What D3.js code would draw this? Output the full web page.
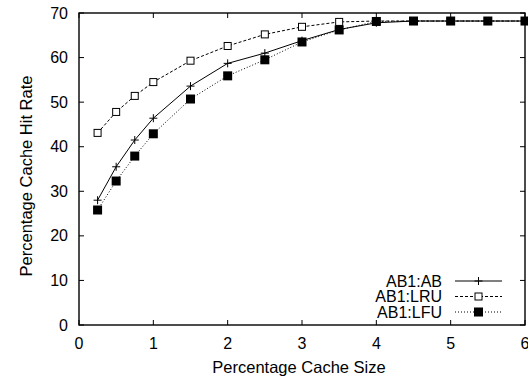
<!DOCTYPE html>
<html><head><meta charset="utf-8">
<script src="https://cdn.jsdelivr.net/npm/d3@7"></script>
<style>body{margin:0;background:#fff}svg{display:block}</style>
</head><body>
<svg id="c" width="528" height="381"></svg>
<script>
const xs = [0.25,0.5,0.75,1,1.5,2,2.5,3,3.5,4,4.5,5,5.5,6];
const abVals  = [28.0,35.5,41.5,46.4,53.6,58.7,61.0,63.8,66.3,67.8,68.2,68.2,68.2,68.2];
const lruVals = [43.1,47.8,51.4,54.5,59.3,62.6,65.2,66.9,68.0,68.2,68.2,68.2,68.2,68.2];
const lfuVals = [25.8,32.3,37.9,42.9,50.7,55.9,59.5,63.5,66.2,68.1,68.2,68.2,68.2,68.2];
const xTicks = [0,1,2,3,4,5,6];
const yTicks = [0,10,20,30,40,50,60,70];
const seriesNames = ["AB1:AB","AB1:LRU","AB1:LFU"];

const svg = d3.select("#c");
const L=79,R=525,T=13,B=325;
const x = d3.scaleLinear().domain([0,6]).range([L,R]);
const y = d3.scaleLinear().domain([0,70]).range([B,T]);
const font = "Liberation Sans, Arial, Helvetica, sans-serif";
const fs = 16;

// ticks
const tl=5;
const g = svg.append("g").attr("stroke","#000").attr("stroke-width",1);
xTicks.forEach(t=>{
  g.append("line").attr("x1",x(t)).attr("x2",x(t)).attr("y1",B).attr("y2",B-tl);
  g.append("line").attr("x1",x(t)).attr("x2",x(t)).attr("y1",T).attr("y2",T+tl);
});
yTicks.forEach(t=>{
  g.append("line").attr("x1",L).attr("x2",L+tl).attr("y1",y(t)).attr("y2",y(t));
  g.append("line").attr("x1",R).attr("x2",R-tl).attr("y1",y(t)).attr("y2",y(t));
});
svg.append("rect").attr("x",L).attr("y",T).attr("width",R-L).attr("height",B-T)
  .attr("fill","none").attr("stroke","#000").attr("stroke-width",1.4);

svg.selectAll(".xt").data(xTicks).enter().append("text")
  .attr("x",d=>x(d)).attr("y",B+24).attr("text-anchor","middle")
  .attr("font-family",font).attr("font-size",fs).text(d=>d);
svg.selectAll(".yt").data(yTicks).enter().append("text")
  .attr("x",L-11).attr("y",d=>y(d)+5.5).attr("text-anchor","end")
  .attr("font-family",font).attr("font-size",fs).text(d=>d);

svg.append("text").attr("x",299).attr("y",373).attr("text-anchor","middle")
  .attr("font-family",font).attr("font-size",16.5).text("Percentage Cache Size");
svg.append("text").attr("transform",`translate(32,176) rotate(-90)`)
  .attr("text-anchor","middle").attr("font-family",font).attr("font-size",16.5)
  .text("Percentage Cache Hit Rate");

const line = d3.line().x(d=>x(d[0])).y(d=>y(d[1]));
const series = [
  {vals:abVals, dash:null, marker:"plus"},
  {vals:lruVals, dash:"3,2", marker:"open"},
  {vals:lfuVals, dash:"1,2", marker:"filled"}
];
function drawMarker(sel, type, cx, cy){
  if(type==="plus"){
    sel.append("line").attr("x1",cx-4).attr("x2",cx+4).attr("y1",cy).attr("y2",cy).attr("stroke","#000");
    sel.append("line").attr("x1",cx).attr("x2",cx).attr("y1",cy-4).attr("y2",cy+4).attr("stroke","#000");
  } else if(type==="open"){
    sel.append("rect").attr("x",cx-3.5).attr("y",cy-3.5).attr("width",7).attr("height",7)
      .attr("fill","#fff").attr("stroke","#000").attr("stroke-width",1);
  } else {
    sel.append("rect").attr("x",cx-4.5).attr("y",cy-4.5).attr("width",9).attr("height",9).attr("fill","#000");
  }
}
series.forEach(s=>{
  const pts = xs.map((xv,i)=>[xv,s.vals[i]]);
  svg.append("path").attr("d",line(pts)).attr("fill","none").attr("stroke","#000")
    .attr("stroke-width",1).attr("stroke-dasharray",s.dash);
});
series.forEach(s=>{
  const mg = svg.append("g");
  xs.forEach((xv,i)=>drawMarker(mg,s.marker,x(xv),y(s.vals[i])));
});

// legend
const ly=[281,296.5,312];
series.forEach((s,i)=>{
  svg.append("text").attr("x",442).attr("y",ly[i]+5.5).attr("text-anchor","end")
    .attr("font-family",font).attr("font-size",fs).text(seriesNames[i]);
  svg.append("line").attr("x1",455).attr("x2",502).attr("y1",ly[i]).attr("y2",ly[i])
    .attr("stroke","#000").attr("stroke-dasharray",s.dash);
  drawMarker(svg.append("g"),s.marker,478.5,ly[i]);
});
</script>
</body></html>
